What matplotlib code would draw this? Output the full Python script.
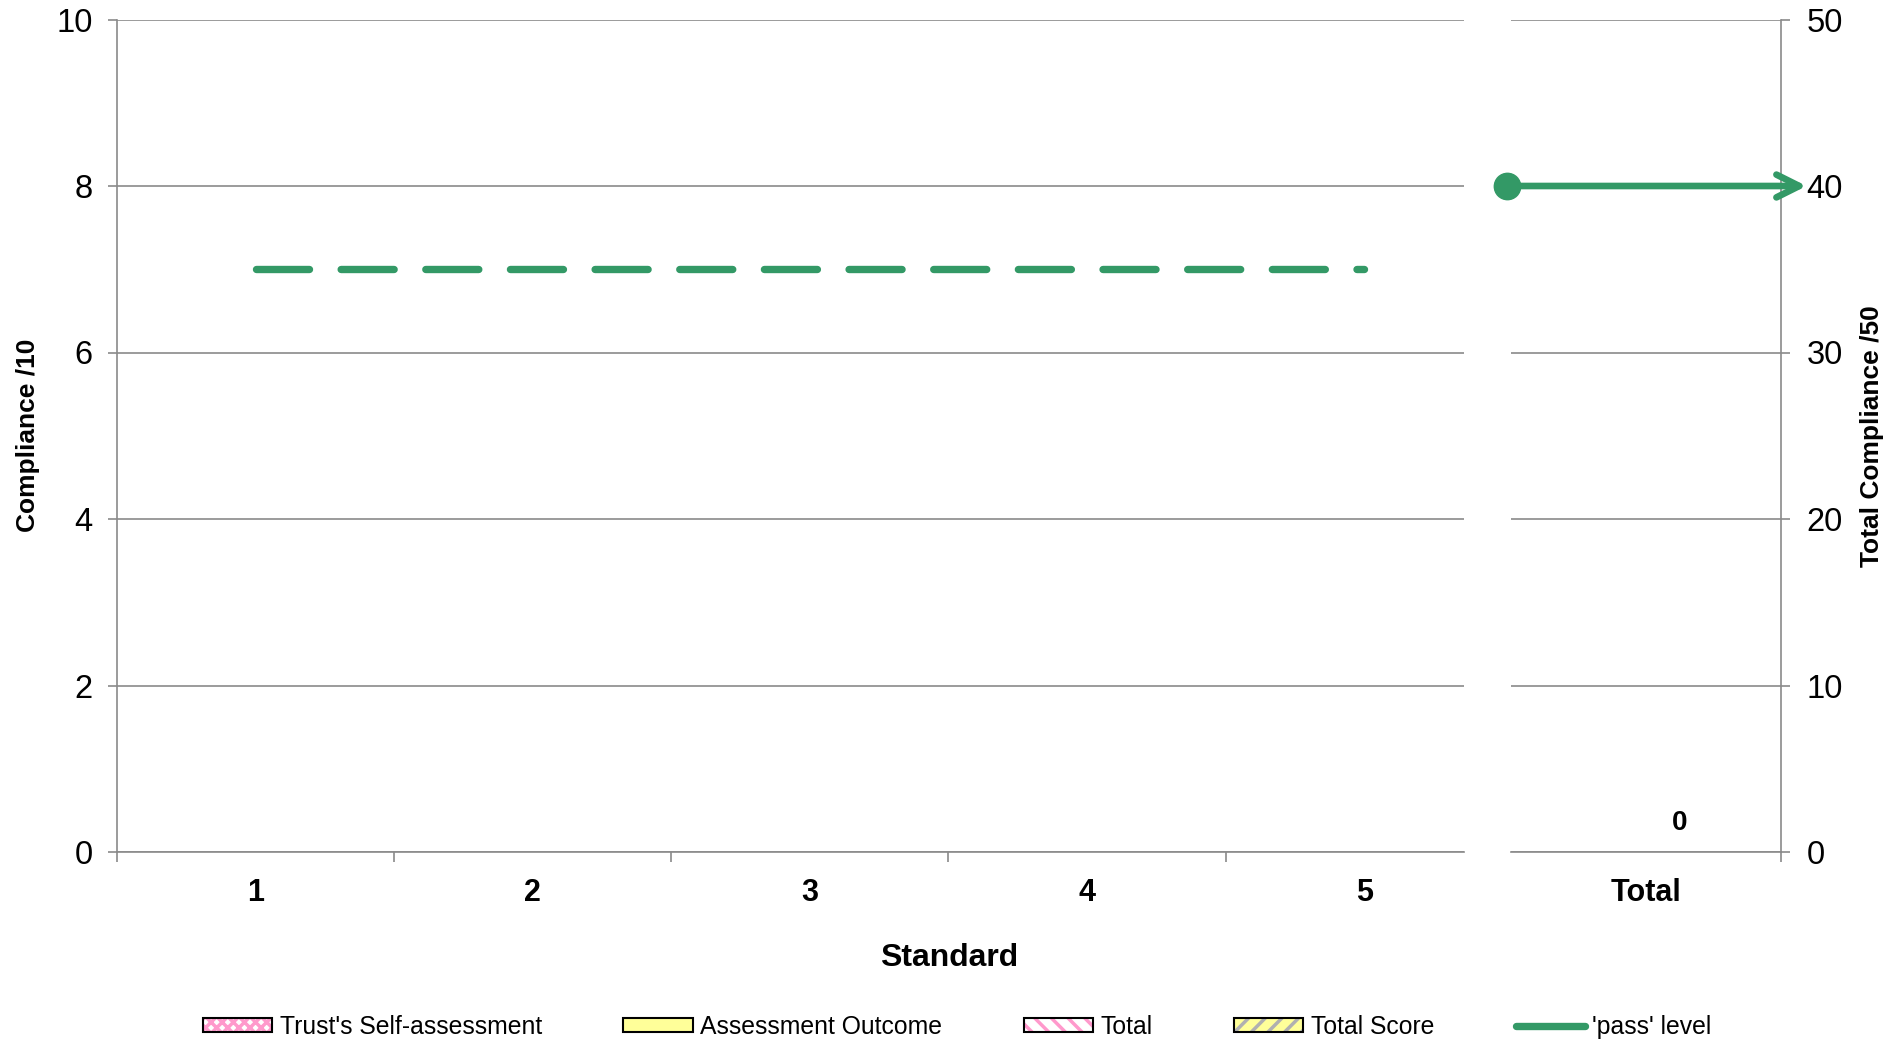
import numpy as np
import matplotlib.pyplot as plt
from matplotlib.patches import Patch
from matplotlib.lines import Line2D

plt.rcParams['font.family'] = ['Liberation Sans', 'DejaVu Sans']
plt.rcParams['hatch.linewidth'] = 2.5

# data
standards = ['1', '2', '3', '4', '5']
self_assessment = [0, 0, 0, 0, 0]
assessment_outcome = [0, 0, 0, 0, 0]
pass_level = [7, 7, 7, 7, 7]

total_cats = ['Total']
total_self = [0]
total_score = [0]
pass_total = [40]

green = '#339966'
pink = '#ff99cc'
yellow = '#ffff99'
grid_col = '#8a8a8a'

fig = plt.figure(figsize=(18.98, 10.45), dpi=100)
W, H = 1898, 1045
ax1 = fig.add_axes([117 / W, 1 - 852 / H, (1464 - 117) / W, (852 - 19.5) / H])
ax2 = fig.add_axes([1511 / W, 1 - 852 / H, (1781 - 1511) / W, (852 - 19.5) / H])

# left panel: standards 1-5
x = np.arange(1, len(standards) + 1)
bw = 0.25
ax1.bar(x - bw / 2, self_assessment, bw, color=pink, lw=0)
ax1.bar(x + bw / 2, assessment_outcome, bw, color=yellow, lw=0)
ax1.plot(x, pass_level, color=green, lw=5.3, linestyle=(0, (7.2, 4.3)),
         dash_capstyle='round', zorder=3)

ax1.set_xlim(0.5, 5.36)
ax1.set_ylim(0, 10)
ax1.set_yticks(np.arange(0, 11, 2))
ax1.set_xticks(x)
ax1.set_xticklabels(standards, fontsize=22, fontweight='bold')
ax1.set_xticks(np.arange(0.5, 5, 1), minor=True)
ax1.tick_params(axis='x', which='major', length=0, pad=19)
ax1.tick_params(axis='x', which='minor', length=7, width=1.2, color=grid_col, direction='out')
ax1.tick_params(axis='y', labelsize=23.5, length=6.5, width=1.2, color=grid_col, pad=11)
ax1.grid(axis='y', color=grid_col, lw=1.2)
ax1.set_axisbelow(True)
for s in ['top', 'right']:
    ax1.spines[s].set_visible(False)
for s in ['left', 'bottom']:
    ax1.spines[s].set_color(grid_col)
    ax1.spines[s].set_linewidth(1.2)
ax1.set_ylabel('Compliance /10', fontsize=19, fontweight='bold')
ax1.yaxis.set_label_coords((40 - 117) / 1347, 0.5)

# right panel: total
xt = np.arange(len(total_cats))
ax2.bar(xt - bw / 2, total_self, bw, color='white', lw=0)
ax2.bar(xt + bw / 2, total_score, bw, color=yellow, lw=0)
for xi, v in zip(xt, total_score):
    ax2.annotate(str(v), (xi + bw / 2, v), xytext=(0, 21), textcoords='offset points',
                 ha='center', va='center', fontsize=20, fontweight='bold')

ax2.set_xlim(-0.5, 0.5)
ax2.set_ylim(0, 50)
ax2.set_yticks(np.arange(0, 51, 10))
ax2.yaxis.tick_right()
ax2.yaxis.set_label_position('right')
ax2.set_xticks(xt)
ax2.set_xticklabels(total_cats, fontsize=22, fontweight='bold')
ax2.set_xticks([0.5], minor=True)
ax2.tick_params(axis='x', which='major', length=0, pad=19)
ax2.tick_params(axis='x', which='minor', length=7, width=1.2, color=grid_col, direction='out')
ax2.tick_params(axis='y', labelsize=23.5, length=6.5, width=1.2, color=grid_col, pad=12)
ax2.grid(axis='y', color=grid_col, lw=1.2)
ax2.set_axisbelow(True)
for s in ['top', 'left']:
    ax2.spines[s].set_visible(False)
for s in ['right', 'bottom']:
    ax2.spines[s].set_color(grid_col)
    ax2.spines[s].set_linewidth(1.2)
ax2.set_ylabel('Total Compliance /50', fontsize=19, fontweight='bold')
ax2.yaxis.set_label_coords((1860 - 1511) / 270, 0.5)

# pass level for total: dot + arrow running past the axis
for v in pass_total:
    ax2.annotate('', xy=(0.595, v), xytext=(-0.515, v), annotation_clip=False,
                 arrowprops=dict(arrowstyle='->', color=green, lw=4.8, mutation_scale=41,
                                 shrinkA=0, shrinkB=0, clip_on=False))
    ax2.plot([-0.515], [v], 'o', color=green, ms=19, clip_on=False, zorder=5)

fig.text(949 / W, 1 - 958 / H, 'Standard', ha='center', va='center',
         fontsize=23, fontweight='bold')

# legend
h_self = (Patch(facecolor='white', lw=0),
          Patch(facecolor='none', edgecolor=pink, hatch='xxx', lw=0),
          Patch(facecolor='none', edgecolor='black', lw=1.5))
h_out = Patch(facecolor=yellow, edgecolor='black', lw=1.5)
h_tot = (Patch(facecolor='white', lw=0),
         Patch(facecolor='none', edgecolor=pink, hatch='\\\\', lw=0),
         Patch(facecolor='none', edgecolor='black', lw=1.5))
h_score = (Patch(facecolor=yellow, lw=0),
           Patch(facecolor='none', edgecolor='#b0b0b0', hatch='//', lw=0),
           Patch(facecolor='none', edgecolor='black', lw=1.5))
h_pass = Line2D([], [], color=green, lw=5.3, solid_capstyle='round')

fig.legend([h_self, h_out, h_tot, h_score, h_pass],
           ["Trust's Self-assessment", 'Assessment Outcome', 'Total', 'Total Score', "'pass' level"],
           loc='center left', bbox_to_anchor=(203 / W, 1 - 1027 / H), ncol=5,
           frameon=False, fontsize=17.8, borderpad=0, borderaxespad=0,
           handlelength=2.8, handleheight=0.5, handletextpad=0.3, columnspacing=3.3)

fig.savefig('out.png', dpi=100)
